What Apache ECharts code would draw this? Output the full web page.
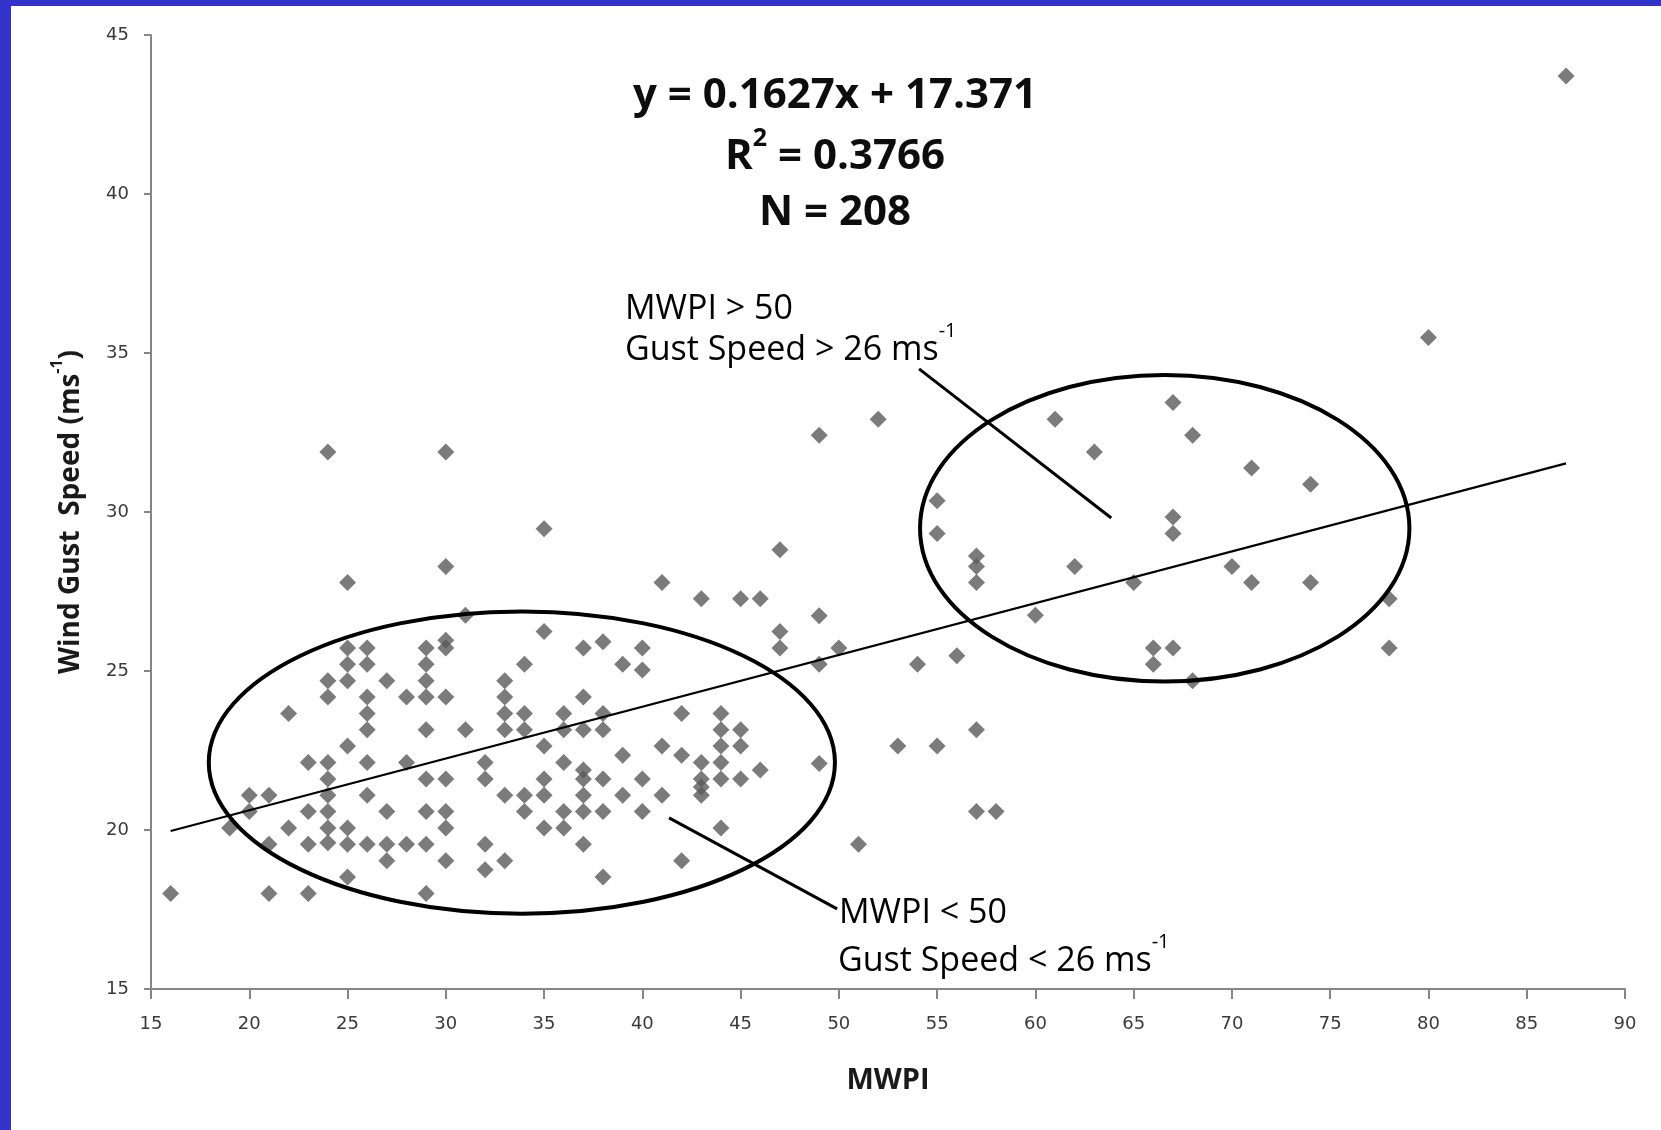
<!DOCTYPE html>
<html><head><meta charset="utf-8">
<script src="https://cdn.jsdelivr.net/npm/echarts@6/dist/echarts.min.js"></script>
<style>
html,body{margin:0;padding:0;background:#fff;}
#chart{position:absolute;left:0;top:0;width:1661px;height:1130px;}
.band{position:absolute;background:#3333cc;z-index:5}
</style></head><body>
<div id="chart"></div>
<div class="band" style="left:0;top:0;width:11px;height:1130px"></div>
<div class="band" style="left:0;top:0;width:1661px;height:6px"></div>
<script>
// MWPI (x) and wind gust speed in m/s (y), grouped by MWPI
const mwpiValues = [
  16,
  19,
  20,20,
  21,21,21,
  22,22,
  23,23,23,23,
  24,24,24,24,24,24,24,24,24,
  25,25,25,25,25,25,25,25,
  26,26,26,26,26,26,26,26,
  27,27,27,27,
  28,28,28,
  29,29,29,29,29,29,29,29,29,
  30,30,30,30,30,30,30,30,30,
  31,31,
  32,32,32,32,
  33,33,33,33,33,33,
  34,34,34,34,34,
  35,35,35,35,35,35,
  36,36,36,36,36,
  37,37,37,37,37,37,37,37,
  38,38,38,38,38,38,
  39,39,39,
  40,40,40,40,
  41,41,41,
  42,42,42,
  43,43,43,43,43,
  44,44,44,44,44,44,
  45,45,45,45,
  46,46,
  47,47,47,
  49,49,49,49,
  50,51,52,53,54,
  55,55,55,
  56,
  57,57,57,57,57,
  58,60,61,62,63,65,
  66,66,
  67,67,67,67,
  68,68,
  70,
  71,71,
  74,74,
  78,78,
  80,87
];
const gustValues = [
  18.0,
  20.06,
  21.09,20.58,
  21.09,19.55,18.0,
  23.66,20.06,
  22.12,20.58,19.55,18.0,
  31.89,24.69,24.18,22.12,21.6,21.09,20.58,20.06,19.6,
  27.78,25.72,25.21,24.69,22.64,20.06,19.55,18.52,
  25.72,25.21,24.18,23.66,23.15,22.12,21.09,19.55,
  24.69,20.58,19.55,19.03,
  24.18,22.12,19.55,
  25.72,25.21,24.69,24.18,23.15,21.6,20.58,19.55,18.0,
  31.89,28.29,25.97,25.72,24.18,21.6,20.58,20.06,19.03,
  26.75,23.15,
  22.12,21.6,19.55,18.75,
  24.69,24.18,23.66,23.15,21.09,19.03,
  25.21,23.66,23.15,21.09,20.58,
  29.47,26.24,22.64,21.6,21.09,20.06,
  23.66,23.15,22.12,20.58,20.06,
  25.72,24.18,23.15,21.89,21.6,21.09,20.58,19.55,
  25.92,23.66,23.15,21.6,20.58,18.52,
  25.21,22.35,21.09,
  25.72,25.03,21.6,20.58,
  27.78,22.64,21.09,
  23.66,22.35,19.03,
  27.27,22.12,21.6,21.35,21.09,
  23.66,23.15,22.64,22.12,21.6,20.06,
  27.27,23.15,22.64,21.6,
  27.27,21.89,
  28.81,26.24,25.72,
  32.41,26.74,25.21,22.09,
  25.72,19.55,32.92,22.64,25.21,
  30.35,29.32,22.64,
  25.48,
  28.62,28.29,27.78,23.15,20.58,
  20.58,26.75,32.92,28.29,31.89,27.78,
  25.72,25.21,
  33.44,29.84,29.32,25.72,
  32.41,24.69,
  28.29,
  31.38,27.78,
  30.87,27.78,
  27.27,25.72,
  35.49,43.71
];
// trend line end points (as drawn in the reference)
const trendX = [16, 87];
const trendY = [19.97, 31.53];
// axis ranges / ticks
const xTicks = {min: 15, max: 90, step: 5};
const yTicks = {min: 15, max: 45, step: 5};
// annotation texts
const fitLines = ['y = 0.1627x + 17.371', 'R{s|2}{b| = 0.3766}', 'N = 208'];

const points = mwpiValues.map((x, i) => [x, gustValues[i]]);
const trend = trendX.map((x, i) => [x, trendY[i]]);

const chart = echarts.init(document.getElementById('chart'), null, {renderer: 'canvas'});
const axisGray = '#868686';
const labelColor = '#3a3a3a';
const option = {
  animation: false,
  backgroundColor: '#ffffff',
  grid: {left: 151, right: 36, top: 35, bottom: 141, containLabel: false, outerBoundsMode: 'none'},
  xAxis: {
    type: 'value', min: xTicks.min, max: xTicks.max, interval: xTicks.step,
    name: 'MWPI', nameLocation: 'middle', nameGap: 77,
    nameTextStyle: {fontFamily: 'Open Sans', fontWeight: 'bold', fontSize: 29, color: '#1a1a1a'},
    axisLine: {show: true, lineStyle: {color: axisGray, width: 2}},
    axisTick: {show: true, length: 10, lineStyle: {color: axisGray, width: 2}},
    axisLabel: {margin: 26, fontFamily: 'DejaVu Sans', fontSize: 18, color: labelColor},
    splitLine: {show: false}
  },
  yAxis: {
    type: 'value', min: yTicks.min, max: yTicks.max, interval: yTicks.step,
    name: '{b|Wind Gust  Speed (ms}{s|-1}{b|)}', nameLocation: 'middle', nameGap: 66,
    nameTextStyle: {
      rich: {
        b: {fontFamily: 'Open Sans', fontWeight: 'bold', fontSize: 28, color: '#1a1a1a', lineHeight: 36, verticalAlign: 'bottom'},
        s: {fontFamily: 'Open Sans', fontWeight: 'bold', fontSize: 16, color: '#1a1a1a', lineHeight: 22, verticalAlign: 'top'}
      }
    },
    axisLine: {show: true, lineStyle: {color: axisGray, width: 2}},
    axisTick: {show: true, length: 7, lineStyle: {color: axisGray, width: 2}},
    axisLabel: {margin: 22, fontFamily: 'DejaVu Sans', fontSize: 18, color: labelColor},
    splitLine: {show: false}
  },
  series: [
    {type: 'scatter', data: points, symbol: 'diamond', symbolSize: 17,
     itemStyle: {color: '#5a5a5a'}, z: 2, silent: true},
    {type: 'line', data: trend, symbol: 'none', showSymbol: false,
     lineStyle: {color: '#000000', width: 2.2}, z: 3, silent: true}
  ]
};
chart.setOption(option);

// annotation geometry in data coordinates
const ellipseLow = {c: [33.87, 22.12], rx: 15.93, ry: 4.75};
const ellipseHigh = {c: [66.58, 29.49], rx: 12.45, ry: 4.82};
const leaderHigh = [[54.08, 34.5], [63.86, 29.81]];
const leaderLow = [[41.36, 20.38], [49.91, 17.52]];

const px = p => chart.convertToPixel({gridIndex: 0}, p);
function ellipseShape(e) {
  const a = px(e.c), b = px([e.c[0] + e.rx, e.c[1] + e.ry]);
  return {cx: a[0], cy: a[1], rx: b[0] - a[0], ry: a[1] - b[1]};
}
function lineShape(l) {
  const a = px(l[0]), b = px(l[1]);
  return {x1: a[0], y1: a[1], x2: b[0], y2: b[1]};
}
const titleFont = {fontFamily: 'Open Sans', fontWeight: 'bold', fontSize: 42, fill: '#0d0d0d'};
const annFont = {fontFamily: 'Open Sans', fontWeight: 'normal', fontSize: 34, fill: '#000'};
function richLine(text, x, y, font, supSize, lh, supLh) {
  return {
    type: 'text', x: x, y: y, z: 10,
    style: {
      text: text, align: font.align || 'left', verticalAlign: 'middle',
      rich: {
        b: {fontFamily: font.fontFamily, fontWeight: font.fontWeight, fontSize: font.fontSize, fill: font.fill, lineHeight: lh, verticalAlign: 'bottom'},
        s: {fontFamily: font.fontFamily, fontWeight: font.fontWeight, fontSize: supSize, fill: font.fill, lineHeight: supLh, verticalAlign: 'top'}
      }
    }
  };
}
const tf = Object.assign({align: 'center'}, titleFont);
chart.setOption({
  graphic: [
    {type: 'ellipse', shape: ellipseShape(ellipseLow), style: {fill: 'none', stroke: '#000', lineWidth: 4}, z: 8, silent: true},
    {type: 'ellipse', shape: ellipseShape(ellipseHigh), style: {fill: 'none', stroke: '#000', lineWidth: 4}, z: 8, silent: true},
    {type: 'line', shape: lineShape(leaderHigh), style: {stroke: '#000', lineWidth: 3}, z: 8, silent: true},
    {type: 'line', shape: lineShape(leaderLow), style: {stroke: '#000', lineWidth: 3}, z: 8, silent: true},
    richLine('{b|' + fitLines[0] + '}', 835, 91, tf, 25, 52, 36),
    richLine('{b|R}' + fitLines[1].slice(1), 835, 152, tf, 25, 52, 36),
    richLine('{b|' + fitLines[2] + '}', 835, 208, tf, 25, 52, 36),
    richLine('{b|MWPI > 50}', 625, 303, annFont, 20, 46, 34),
    richLine('{b|Gust Speed > 26 ms}{s|-1}', 625, 344, annFont, 20, 46, 34),
    richLine('{b|MWPI < 50}', 839, 907, annFont, 20, 46, 34),
    richLine('{b|Gust Speed < 26 ms}{s|-1}', 838, 955, annFont, 20, 46, 34)
  ]
});
</script>
</body></html>
